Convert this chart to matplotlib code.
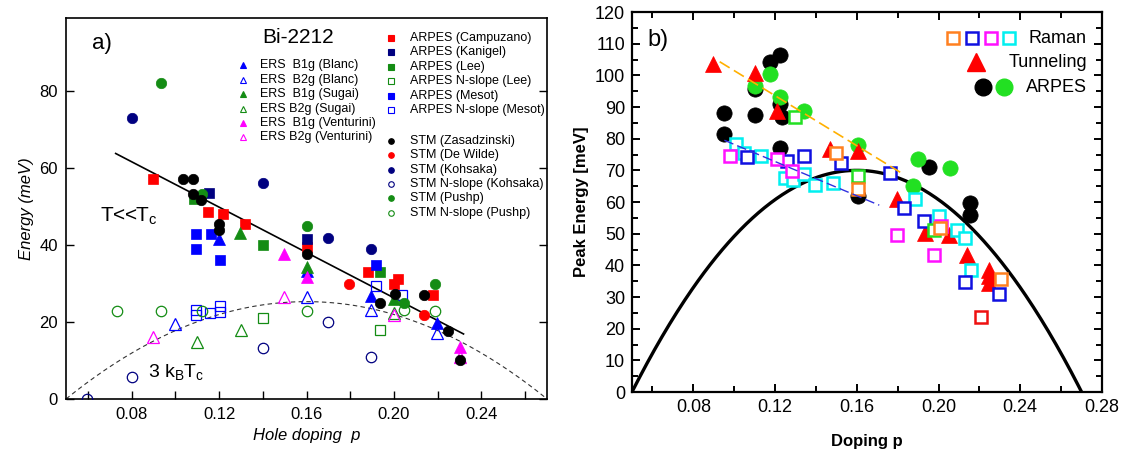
import numpy as np
import matplotlib
matplotlib.use("Agg")
import matplotlib.pyplot as plt

plt.rcParams['font.family'] = ['Liberation Sans', 'DejaVu Sans']
plt.rcParams['mathtext.fontset'] = 'custom'
plt.rcParams['mathtext.rm'] = 'Liberation Sans'
plt.rcParams['mathtext.it'] = 'Liberation Sans:italic'

# ---------------- Panel a data (Bi-2212) ----------------
ers_b1g_blanc_p = [0.120, 0.160, 0.1895, 0.2195]
ers_b1g_blanc_e = [41.7, 33.3, 26.8, 19.8]
ers_b2g_blanc_p = [0.0997, 0.160, 0.1895, 0.2195]
ers_b2g_blanc_e = [19.5, 26.4, 23.1, 17.2]
ers_b1g_sugai_p = [0.1295, 0.160, 0.200]
ers_b1g_sugai_e = [43.2, 34.2, 26.1]
ers_b2g_sugai_p = [0.110, 0.130, 0.200]
ers_b2g_sugai_e = [14.9, 17.9, 22.3]
ers_b1g_venturini_p = [0.1497, 0.160, 0.2303]
ers_b1g_venturini_e = [37.8, 31.8, 13.4]
ers_b2g_venturini_p = [0.0898, 0.1497, 0.200, 0.2303]
ers_b2g_venturini_e = [16.0, 26.4, 21.8, 11.0]

arpes_campuzano_p = [0.0898, 0.115, 0.1218, 0.1318, 0.160, 0.1883, 0.200, 0.202, 0.2177]
arpes_campuzano_e = [57.1, 48.7, 48.0, 45.5, 39.6, 33.1, 29.8, 31.3, 27.0]
arpes_kanigel_p = [0.1154, 0.160]
arpes_kanigel_e = [53.6, 41.5]
arpes_lee_p = [0.1085, 0.140, 0.1936]
arpes_lee_e = [51.9, 40.0, 33.1]
arpes_nslope_lee_p = [0.140, 0.1936]
arpes_nslope_lee_e = [21.0, 17.9]
arpes_mesot_p = [0.1093, 0.1162, 0.1093, 0.1203, 0.1917]
arpes_mesot_e = [43.0, 43.0, 39.1, 36.1, 34.8]
arpes_nslope_mesot_p = [0.1096, 0.1096, 0.116, 0.1203, 0.1203, 0.1917, 0.2035]
arpes_nslope_mesot_e = [23.1, 21.8, 22.3, 24.2, 22.7, 29.4, 27.0]

stm_zasadzinski_p = [0.1035, 0.108, 0.108, 0.1115, 0.120, 0.120, 0.160, 0.1936, 0.2005, 0.2139, 0.2249, 0.2303]
stm_zasadzinski_e = [57.1, 57.1, 53.2, 51.6, 45.5, 44.0, 37.7, 25.0, 27.4, 27.0, 17.7, 10.1]
stm_dewilde_p = [0.1795, 0.2139]
stm_dewilde_e = [29.9, 21.8]
stm_kohsaka_p = [0.080, 0.140, 0.170, 0.1895]
stm_kohsaka_e = [73.0, 56.0, 41.9, 38.9]
stm_nslope_kohsaka_p = [0.0597, 0.080, 0.140, 0.170, 0.1895]
stm_nslope_kohsaka_e = [0.0, 5.8, 13.2, 19.9, 10.8]
stm_pushp_p = [0.0936, 0.1124, 0.160, 0.2048, 0.2188]
stm_pushp_e = [82.0, 53.2, 45.0, 25.0, 29.9]
stm_nslope_pushp_p = [0.0733, 0.0936, 0.1124, 0.160, 0.2048, 0.2188]
stm_nslope_pushp_e = [22.9, 22.9, 22.9, 22.9, 23.1, 22.9]

fit_a_p = [0.0727, 0.2318]
fit_a_e = [63.8, 16.9]

# 3 kB Tc dome parameters (panel a) and Tc-like dome (panel b)
dome_a_peak, dome_b_peak = 25.3, 70.0
dome_p_opt, dome_width = 0.16, 82.6

# ---------------- Panel b data ----------------
raman_orange_p = [0.1497, 0.1604, 0.2005, 0.2304]
raman_orange_e = [75.4, 64.0, 51.8, 35.7]
raman_blue_p = [0.1064, 0.1257, 0.1342, 0.1522, 0.1764, 0.1833, 0.1929, 0.2131, 0.2294]
raman_blue_e = [74.3, 72.9, 74.5, 72.4, 69.2, 58.2, 53.9, 34.7, 30.9]
raman_magenta_p = [0.0978, 0.1208, 0.1281, 0.1797, 0.1977, 0.201]
raman_magenta_e = [74.5, 73.7, 69.8, 49.7, 43.4, 52.5]
raman_cyan_p = [0.1011, 0.105, 0.1129, 0.1248, 0.129, 0.1342, 0.1396, 0.1484, 0.1885, 0.2002, 0.2091, 0.2132, 0.2157]
raman_cyan_e = [78.2, 75.6, 74.5, 67.7, 67.1, 68.7, 65.3, 65.9, 60.8, 55.7, 51.3, 48.7, 38.6]
raman_red_p = [0.2206]
raman_red_e = [23.8]
raman_green_p = [0.1296, 0.1604, 0.1977]
raman_green_e = [87.0, 68.2, 51.3]
tunneling_p = [0.0897, 0.110, 0.121, 0.147, 0.1604, 0.1797, 0.1932, 0.2049, 0.2141, 0.2245, 0.2245, 0.2245]
tunneling_e = [103.5, 100.9, 88.8, 76.6, 76.1, 60.8, 50.3, 49.7, 43.4, 38.6, 36.5, 34.4]
arpes_black_p = [0.0952, 0.0952, 0.110, 0.110, 0.1175, 0.1224, 0.1224, 0.1236, 0.1224, 0.1604, 0.1955, 0.2152, 0.2152]
arpes_black_e = [88.0, 81.4, 87.4, 95.6, 104.3, 106.4, 91.0, 86.7, 77.2, 61.8, 71.2, 59.8, 56.0]
arpes_green_p = [0.110, 0.1175, 0.1224, 0.134, 0.1604, 0.1874, 0.190, 0.2054]
arpes_green_e = [96.7, 100.4, 93.3, 88.6, 77.9, 65.0, 73.5, 70.8]
fit_orange_p = [0.0929, 0.183]
fit_orange_e = [104.3, 68.7]
fit_blue_p = [0.0952, 0.171]
fit_blue_e = [79.5, 59.0]

RED, NAVY, GREEN, BLUE, MAG = '#ff0000', '#000080', '#148c14', '#0000ff', '#ff00ff'

fig = plt.figure(figsize=(11.27, 4.57), dpi=100)
axa = fig.add_axes([0.0586, 0.1269, 0.4268, 0.8337])
axb = fig.add_axes([0.5608, 0.1422, 0.4170, 0.8315])

# ---------------- Panel a ----------------
pp = np.linspace(0.05, 0.27, 200)
axa.plot(pp, dome_a_peak * (1 - dome_width * (pp - dome_p_opt) ** 2), ls=(0, (4, 3)), color='#333333', lw=0.8)
axa.plot(fit_a_p, fit_a_e, color='black', lw=1.2)

def fa(x, y, m, c, ms, filled=True):
    if filled:
        axa.plot(x, y, ls='none', marker=m, ms=ms, mfc=c, mec=c, mew=0.5, zorder=3)
    else:
        axa.plot(x, y, ls='none', marker=m, ms=ms, mfc='none', mec=c, mew=0.9, zorder=3)

fa(ers_b2g_blanc_p, ers_b2g_blanc_e, '^', BLUE, 8, False)
fa(ers_b2g_sugai_p, ers_b2g_sugai_e, '^', GREEN, 8, False)
fa(ers_b2g_venturini_p, ers_b2g_venturini_e, '^', MAG, 8, False)
fa(arpes_nslope_lee_p, arpes_nslope_lee_e, 's', GREEN, 7, False)
fa(arpes_nslope_mesot_p, arpes_nslope_mesot_e, 's', BLUE, 7, False)
fa(stm_nslope_kohsaka_p, stm_nslope_kohsaka_e, 'o', NAVY, 7.5, False)
fa(stm_nslope_pushp_p, stm_nslope_pushp_e, 'o', GREEN, 7.5, False)
fa(arpes_campuzano_p, arpes_campuzano_e, 's', RED, 6.5)
fa(arpes_kanigel_p, arpes_kanigel_e, 's', NAVY, 6.5)
fa(arpes_lee_p, arpes_lee_e, 's', GREEN, 6.5)
fa(arpes_mesot_p, arpes_mesot_e, 's', BLUE, 6.5)
fa(ers_b1g_blanc_p, ers_b1g_blanc_e, '^', BLUE, 8)
fa(ers_b1g_sugai_p, ers_b1g_sugai_e, '^', GREEN, 8)
fa(ers_b1g_venturini_p, ers_b1g_venturini_e, '^', MAG, 8)
fa(stm_dewilde_p, stm_dewilde_e, 'o', RED, 7.5)
fa(stm_kohsaka_p, stm_kohsaka_e, 'o', NAVY, 7.5)
fa(stm_pushp_p, stm_pushp_e, 'o', GREEN, 7.5)
fa(stm_zasadzinski_p, stm_zasadzinski_e, 'o', 'black', 7.5)

axa.set_xlim(0.05, 0.27)
axa.set_ylim(0, 99)
axa.set_xticks([0.08, 0.12, 0.16, 0.20, 0.24])
axa.set_xticks([0.06, 0.10, 0.14, 0.18, 0.22, 0.26], minor=True)
axa.set_xticklabels(['0.08', '0.12', '0.16', '0.20', '0.24'])
axa.set_yticks([0, 20, 40, 60, 80])
axa.tick_params(axis='both', which='both', direction='in', length=6, width=1, labelsize=12, pad=6)
axa.tick_params(axis='y', right=True)
for s in axa.spines.values():
    s.set_linewidth(1.2)
axa.set_xlabel('Hole doping  p', fontsize=12, style='italic', labelpad=4)
axa.set_ylabel('Energy (meV)', fontsize=12, style='italic', labelpad=4)

axa.text(0.054, 0.934, 'a)', transform=axa.transAxes, fontsize=16, va='center')
axa.text(0.4075, 0.950, 'Bi-2212', transform=axa.transAxes, fontsize=15, va='center')
axa.text(0.070, 0.4646, r'T<<T$_\mathregular{c}$', transform=axa.transAxes, fontsize=15, va='baseline')
axa.text(0.170, 0.0577, r'3 k$_\mathregular{B}$T$_\mathregular{c}$', transform=axa.transAxes, fontsize=14, va='baseline')

# legend of panel a (manual)
left_leg = [('ERS  B1g (Blanc)', '^', BLUE, True), ('ERS  B2g (Blanc)', '^', BLUE, False),
            ('ERS  B1g (Sugai)', '^', GREEN, True), ('ERS B2g (Sugai)', '^', GREEN, False),
            ('ERS  B1g (Venturini)', '^', MAG, True), ('ERS B2g (Venturini)', '^', MAG, False)]
left_rows = [65, 80, 94, 109, 123, 137]
right_leg = [('ARPES (Campuzano)', 's', RED, True), ('ARPES (Kanigel)', 's', NAVY, True),
             ('ARPES (Lee)', 's', GREEN, True), ('ARPES N-slope (Lee)', 's', GREEN, False),
             ('ARPES (Mesot)', 's', BLUE, True), ('ARPES N-slope (Mesot)', 's', BLUE, False),
             ('STM (Zasadzinski)', 'o', 'black', True), ('STM (De Wilde)', 'o', RED, True),
             ('STM (Kohsaka)', 'o', NAVY, True), ('STM N-slope (Kohsaka)', 'o', NAVY, False),
             ('STM (Pushp)', 'o', GREEN, True), ('STM N-slope (Pushp)', 'o', GREEN, False)]
right_rows = [38, 52, 67, 81, 96, 110, 141, 155, 170, 184, 198, 213]
def axfa(px, py):
    return (px - 66) / 481.0, (399 - py) / 381.0
for (lab, m, c, fill), py in zip(left_leg, left_rows):
    x0, y0 = axfa(243, py)
    x1, _ = axfa(260, py)
    axa.plot([x0], [y0], marker=m, ms=4.5, mfc=c if fill else 'none', mec=c, mew=0.8,
             transform=axa.transAxes, clip_on=False, ls='none')
    axa.text(x1, y0, lab, transform=axa.transAxes, fontsize=9, va='center')
for (lab, m, c, fill), py in zip(right_leg, right_rows):
    x0, y0 = axfa(391, py)
    x1, _ = axfa(410, py)
    axa.plot([x0], [y0], marker=m, ms=4, mfc=c if fill else 'none', mec=c, mew=0.8,
             transform=axa.transAxes, clip_on=False, ls='none')
    axa.text(x1, y0, lab, transform=axa.transAxes, fontsize=9, va='center')

# ---------------- Panel b ----------------
pb = np.linspace(0.05, 0.27, 300)
axb.plot(pb, dome_b_peak * (1 - dome_width * (pb - dome_p_opt) ** 2), color='black', lw=2.4, zorder=2)

def fb(x, y, m, c, ms, filled=True, mew=1.8, z=3):
    if filled:
        axb.plot(x, y, ls='none', marker=m, ms=ms, mfc=c, mec=c, mew=0.5, zorder=z)
    else:
        axb.plot(x, y, ls='none', marker=m, ms=ms, mfc='white', mec=c, mew=mew, zorder=z)

fb(arpes_black_p, arpes_black_e, 'o', 'black', 11)
fb(arpes_green_p, arpes_green_e, 'o', '#22e022', 11)
fb(tunneling_p, tunneling_e, '^', '#ff0000', 12)
fb(raman_cyan_p, raman_cyan_e, 's', '#00f0f0', 8, False)
fb(raman_blue_p, raman_blue_e, 's', '#1010e0', 8, False)
fb(raman_magenta_p, raman_magenta_e, 's', '#ff10ff', 8, False)
fb(raman_green_p, raman_green_e, 's', '#22e022', 8, False)
fb(raman_orange_p, raman_orange_e, 's', '#ff8020', 8, False)
fb(raman_red_p, raman_red_e, 's', '#ee1010', 8, False)
axb.plot(fit_orange_p, fit_orange_e, color='#ffb000', lw=1.2, ls=(0, (7, 3)), zorder=4)
axb.plot(fit_blue_p, fit_blue_e, color='#3030e0', lw=1.0, ls=(0, (7, 3)), zorder=4)

axb.set_xlim(0.05, 0.28)
axb.set_ylim(0, 120)
axb.set_xticks([0.08, 0.12, 0.16, 0.20, 0.24, 0.28])
axb.set_xticklabels(['0.08', '0.12', '0.16', '0.20', '0.24', '0.28'])
axb.set_xticks([0.06, 0.10, 0.14, 0.18, 0.22, 0.26], minor=True)
axb.set_yticks(np.arange(0, 121, 10))
axb.set_yticks(np.arange(5, 120, 10), minor=True)
axb.tick_params(axis='both', which='major', direction='in', length=6, width=1.4, labelsize=13, top=True, right=True, pad=5)
axb.tick_params(axis='both', which='minor', direction='in', length=4, width=1.4, top=True, right=True)
for s in axb.spines.values():
    s.set_linewidth(1.6)
axb.set_xlabel('Doping p', fontsize=12, fontweight='bold', labelpad=13)
axb.set_ylabel('Peak Energy [meV]', fontsize=12, fontweight='bold', labelpad=4)
axb.text(0.032, 0.926, 'b)', transform=axb.transAxes, fontsize=17, va='center')

def axfb(px, py):
    return (px - 632) / 470.0, (392 - py) / 380.0
for px, c in zip([953, 972, 991, 1009], ['#ff8020', '#1010e0', '#ff10ff', '#00f0f0']):
    x0, y0 = axfb(px, 38)
    axb.plot([x0], [y0], marker='s', ms=9, mfc='white', mec=c, mew=1.8, transform=axb.transAxes, clip_on=False)
x0, y0 = axfb(976, 62)
axb.plot([x0], [y0], marker='^', ms=13, mfc='#ff0000', mec='#ff0000', transform=axb.transAxes, clip_on=False)
for px, c in zip([983, 1004], ['black', '#22e022']):
    x0, y0 = axfb(px, 87)
    axb.plot([x0], [y0], marker='o', ms=12, mfc=c, mec=c, transform=axb.transAxes, clip_on=False)
for lab, py in zip(['Raman', 'Tunneling', 'ARPES'], [38, 62, 87]):
    x0, y0 = axfb(1087, py)
    axb.text(x0, y0, lab, transform=axb.transAxes, fontsize=13, ha='right', va='center')

fig.savefig('out.png', dpi=100, facecolor='white')
